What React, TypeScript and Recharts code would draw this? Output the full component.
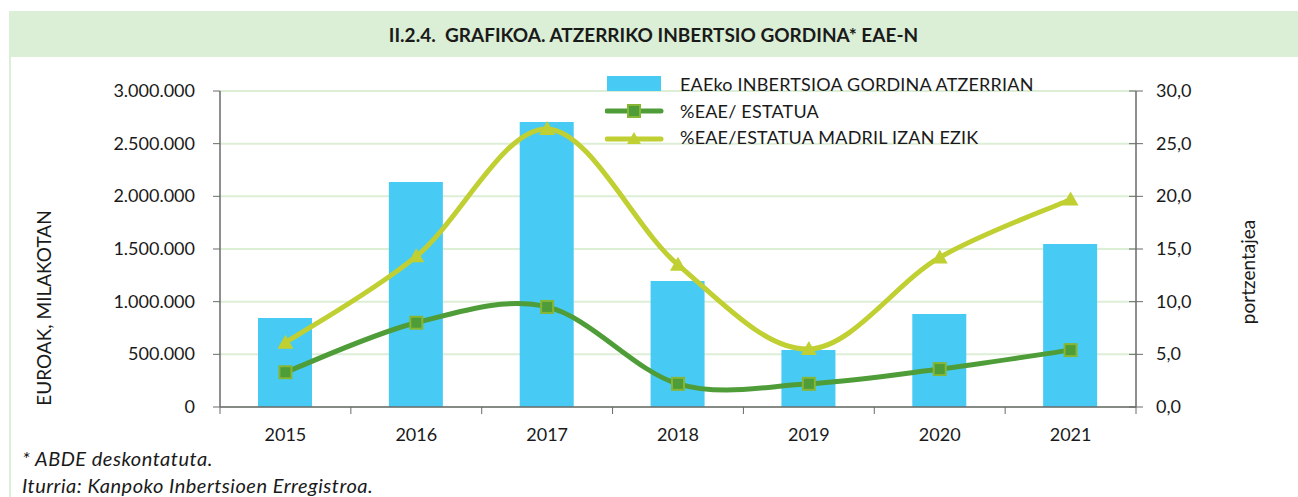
import React from 'react'
import { ComposedChart, Bar, Line, XAxis, YAxis, CartesianGrid } from 'recharts'

const years = ['2015', '2016', '2017', '2018', '2019', '2020', '2021']
const inbertsioa = [845000, 2136000, 2706000, 1196000, 541000, 883000, 1547000]
const eaeEstatua = [3.3, 8.0, 9.5, 2.2, 2.2, 3.6, 5.4]
const eaeEstatuaMadrilGabe = [6.1, 14.3, 26.4, 13.5, 5.5, 14.2, 19.7]
const leftTicks = [0, 500000, 1000000, 1500000, 2000000, 2500000, 3000000]
const rightTicks = [0, 5, 10, 15, 20, 25, 30]

const data = years.map((year, i) => ({
  year,
  inbertsioa: inbertsioa[i],
  estatua: eaeEstatua[i],
  madrilGabe: eaeEstatuaMadrilGabe[i],
}))

const FONT = 'Lato, "Open Sans", sans-serif'
const BAR_COLOR = '#47cbf5'
const DARK_GREEN = '#4f9d38'
const DARK_GREEN_EDGE = '#86b634'
const LIGHT_GREEN = '#c0cf31'
const AXIS_COLOR = '#6a6a6a'
const GRID_COLOR = '#dcefd6'
const PALE = '#dbeed6'
const TEXT = '#1a1a1a'

const fmtThousands = (v: number) => v.toString().replace(/\B(?=(\d{3})+(?!\d))/g, '.')
const fmtPercent = (v: number) => v.toFixed(1).replace('.', ',')

// smooth line like the spreadsheet one (catmull-rom style bezier)
const smoothCurve = (context: any) => {
  let pts: number[][] = []
  return {
    areaStart() {},
    areaEnd() {},
    lineStart() {
      pts = []
    },
    point(x: number, y: number) {
      pts.push([+x, +y])
    },
    lineEnd() {
      if (!pts.length) return
      context.moveTo(pts[0][0], pts[0][1])
      for (let i = 0; i < pts.length - 1; i++) {
        const p0 = pts[i - 1] || pts[i]
        const p1 = pts[i]
        const p2 = pts[i + 1]
        const p3 = pts[i + 2] || pts[i + 1]
        context.bezierCurveTo(
          p1[0] + (p2[0] - p0[0]) / 6,
          p1[1] + (p2[1] - p0[1]) / 6,
          p2[0] - (p3[0] - p1[0]) / 6,
          p2[1] - (p3[1] - p1[1]) / 6,
          p2[0],
          p2[1]
        )
      }
    },
  }
}

const SquareDot = (props: any) => {
  const { cx, cy } = props
  if (cx == null || cy == null) return null
  return (
    <rect x={cx - 6} y={cy - 6} width={12} height={12} fill={DARK_GREEN} stroke={DARK_GREEN_EDGE} strokeWidth={2} />
  )
}

const TriangleDot = (props: any) => {
  const { cx, cy } = props
  if (cx == null || cy == null) return null
  return <path d={`M${cx},${cy - 8} L${cx + 8},${cy + 6} L${cx - 8},${cy + 6} Z`} fill={LIGHT_GREEN} />
}

const LeftTick = (props: any) => {
  const { x, y, payload } = props
  return (
    <g>
      <line x1={x - 7} y1={y} x2={x} y2={y} stroke={AXIS_COLOR} />
      <text x={x - 25} y={y} dy={6} textAnchor="end" fill={TEXT} fontSize={18} fontFamily={FONT}>
        {fmtThousands(payload.value)}
      </text>
    </g>
  )
}

const RightTick = (props: any) => {
  const { x, y, payload } = props
  return (
    <g>
      <line x1={x - 7} y1={y} x2={x + 7} y2={y} stroke={AXIS_COLOR} />
      <text x={x + 20} y={y} dy={6} textAnchor="start" fill={TEXT} fontSize={18} fontFamily={FONT}>
        {fmtPercent(payload.value)}
      </text>
    </g>
  )
}

const YearTick = (props: any) => {
  const { x, y, payload, index } = props
  const half = payload.offset || 0
  return (
    <g>
      <line x1={x - half} y1={y} x2={x - half} y2={y + 7} stroke={AXIS_COLOR} />
      {index === years.length - 1 && <line x1={x + half} y1={y} x2={x + half} y2={y + 7} stroke={AXIS_COLOR} />}
      <text x={x} y={y + 34} textAnchor="middle" fill={TEXT} fontSize={18} fontFamily={FONT}>
        {payload.value}
      </text>
    </g>
  )
}

const legendItems = [
  { label: 'EAEko INBERTSIOA GORDINA ATZERRIAN', kind: 'bar' },
  { label: '%EAE/ ESTATUA', kind: 'square' },
  { label: '%EAE/ESTATUA MADRIL IZAN EZIK', kind: 'triangle' },
]

const ChartLegend = () => (
  <div style={{ position: 'absolute', left: 605, top: 71, fontFamily: FONT, fontSize: 18, color: TEXT }}>
    {legendItems.map((item) => (
      <div key={item.label} style={{ display: 'flex', alignItems: 'center', height: 26.5 }}>
        <svg width={70} height={20} style={{ flex: 'none' }}>
          {item.kind === 'bar' && <rect x={2} y={2} width={54} height={15} fill={BAR_COLOR} />}
          {item.kind === 'square' && (
            <g>
              <line x1={2} y1={10} x2={56} y2={10} stroke={DARK_GREEN} strokeWidth={5} strokeLinecap="round" />
              <rect x={23} y={4} width={12} height={12} fill={DARK_GREEN} stroke={DARK_GREEN_EDGE} strokeWidth={2} />
            </g>
          )}
          {item.kind === 'triangle' && (
            <g>
              <line x1={2} y1={12} x2={56} y2={12} stroke={LIGHT_GREEN} strokeWidth={5} strokeLinecap="round" />
              <path d="M29,5 L36,17 L22,17 Z" fill={LIGHT_GREEN} />
            </g>
          )}
        </svg>
        <span style={{ marginLeft: 5, whiteSpace: 'nowrap', letterSpacing: 0.2 }}>{item.label}</span>
      </div>
    ))}
  </div>
)

export default function App() {
  return (
    <div style={{ position: 'absolute', left: 0, top: 0, width: 1298, height: 497, background: '#fff', overflow: 'hidden' }}>
      <div
        style={{
          position: 'absolute', left: 9, top: 11, right: 0, height: 46, background: PALE,
          display: 'flex', alignItems: 'center', justifyContent: 'center',
          fontFamily: FONT, fontWeight: 700, fontSize: 19, color: TEXT, letterSpacing: 0,
        }}
      >
        II.2.4.&nbsp; GRAFIKOA. ATZERRIKO INBERTSIO GORDINA* EAE-N
      </div>
      <div style={{ position: 'absolute', left: 9, top: 57, width: 2, bottom: 0, background: PALE }} />

      <div style={{ position: 'absolute', left: 0, top: 0 }}>
        <ComposedChart
          width={1298}
          height={497}
          data={data}
          margin={{ top: 91, right: 102, bottom: 60, left: 0 }}
          barCategoryGap={0}
        >
          <CartesianGrid horizontal vertical={false} stroke={GRID_COLOR} strokeWidth={2} yAxisId="left" />
          <XAxis
            dataKey="year"
            height={30}
            tickLine={false}
            tickSize={0}
            tickMargin={0}
            axisLine={{ stroke: AXIS_COLOR, strokeWidth: 1.5 }}
            tick={<YearTick />}
            interval={0}
          />
          <YAxis
            yAxisId="left"
            width={220}
            domain={[0, 3000000]}
            ticks={leftTicks}
            tickLine={false}
            tickSize={0}
            tickMargin={0}
            axisLine={{ stroke: AXIS_COLOR, strokeWidth: 1.5 }}
            tick={<LeftTick />}
            interval={0}
          />
          <YAxis
            yAxisId="right"
            orientation="right"
            width={60}
            domain={[0, 30]}
            ticks={rightTicks}
            tickLine={false}
            tickSize={0}
            tickMargin={0}
            axisLine={{ stroke: AXIS_COLOR, strokeWidth: 1.5 }}
            tick={<RightTick />}
            interval={0}
          />
          <Bar
            yAxisId="left"
            dataKey="inbertsioa"
            name="EAEko INBERTSIOA GORDINA ATZERRIAN"
            fill={BAR_COLOR}
            barSize={54}
            isAnimationActive={false}
          />
          <Line
            yAxisId="right"
            dataKey="madrilGabe"
            name="%EAE/ESTATUA MADRIL IZAN EZIK"
            type={smoothCurve as any}
            stroke={LIGHT_GREEN}
            strokeWidth={5}
            dot={<TriangleDot />}
            activeDot={false}
            isAnimationActive={false}
          />
          <Line
            yAxisId="right"
            dataKey="estatua"
            name="%EAE/ ESTATUA"
            type={smoothCurve as any}
            stroke={DARK_GREEN}
            strokeWidth={5}
            dot={<SquareDot />}
            activeDot={false}
            isAnimationActive={false}
          />
        </ComposedChart>
      </div>

      <ChartLegend />

      <div
        style={{
          position: 'absolute', left: 43, top: 308, transform: 'translate(-50%, -50%) rotate(-90deg)',
          fontFamily: FONT, fontSize: 19, color: TEXT, whiteSpace: 'nowrap',
        }}
      >
        EUROAK, MILAKOTAN
      </div>
      <div
        style={{
          position: 'absolute', left: 1247, top: 272, transform: 'translate(-50%, -50%) rotate(-90deg)',
          fontFamily: FONT, fontSize: 19, color: TEXT, whiteSpace: 'nowrap',
        }}
      >
        portzentajea
      </div>

      <div style={{ position: 'absolute', left: 22, top: 446, fontFamily: FONT, fontStyle: 'italic', fontSize: 20, letterSpacing: 0.5, color: TEXT }}>
        * ABDE deskontatuta.
      </div>
      <div style={{ position: 'absolute', left: 22, top: 473, fontFamily: FONT, fontStyle: 'italic', fontSize: 20, letterSpacing: 0.5, color: TEXT }}>
        Iturria: Kanpoko Inbertsioen Erregistroa.
      </div>
    </div>
  )
}
